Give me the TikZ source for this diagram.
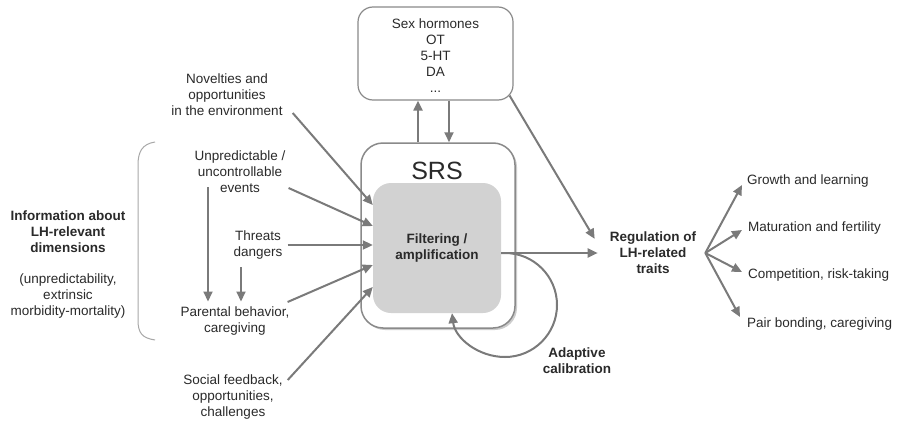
\documentclass[tikz,border=0pt]{standalone}
\usepackage{fontspec}
\setmainfont{Liberation Sans}
\usetikzlibrary{arrows.meta,shadows}
\definecolor{lc}{HTML}{7A7A7A}
\definecolor{bc}{HTML}{8A8A8A}
\definecolor{ic}{HTML}{D2D2D2}
\definecolor{tc}{HTML}{2A2A2A}
\definecolor{brc}{HTML}{A8A8A8}
\newcommand\fsz{\fontsize{13.5}{16}\selectfont}
\tikzset{
  txt/.style={font=\fsz, text=tc, align=center, inner sep=0pt},
  boldtxt/.style={txt, font=\fsz\bfseries},
  arr/.style={draw=lc, line width=2pt, -{Triangle[length=10pt,width=9pt]}},
  hbox/.style={draw=bc, line width=1.2pt, rounded corners=15pt, fill=white},
  srsbox/.style={draw=bc, line width=1.5pt, rounded corners=22pt, fill=white,
     drop shadow={opacity=0.4, shadow xshift=2pt, shadow yshift=-2pt}},
  innerbox/.style={fill=ic, rounded corners=18pt, inner sep=0pt},
}
\begin{document}
\begin{tikzpicture}[x=1pt,y=-1pt]
\path[use as bounding box, fill=white] (0,0) rectangle (897,423);

% hormones box
\node[hbox, minimum width=155pt, minimum height=93pt] (horm) at (435.5,53.5) {};
\node[txt] (hormtxt) at (435.5,56) {Sex hormones\\OT\\5-HT\\DA\\...};

% SRS
\node[srsbox, minimum width=154pt, minimum height=185pt] (srs) at (438,235.5) {};
\node[txt, font=\fontsize{25}{28}\selectfont] (srslab) at (437,171) {SRS};
\node[innerbox, minimum width=128pt, minimum height=130pt, boldtxt] (inner) at (437,248) {Filtering /\\amplification};

% left texts
\node[txt] (nov) at (227,95) {Novelties and\\opportunities\\in the environment};
\node[txt] (unp) at (240,172) {Unpredictable /\\uncontrollable\\events};
\node[txt] (thr) at (258,245) {Threats\\dangers};
\node[txt] (par) at (235,321) {Parental behavior,\\caregiving};
\node[txt] (soc) at (233,397) {Social feedback,\\opportunities,\\challenges};
\node[boldtxt] (info) at (68,232) {Information about\\LH-relevant\\dimensions};
\node[txt] (dims) at (68,296) {(unpredictability,\\extrinsic\\morbidity-mortality)};

% bracket
\draw[brc, line width=1pt] (155,142) .. controls (142,144) and (138,152) .. (138,165)
   -- (138,320) .. controls (138,333) and (142,338) .. (155,340);

% right texts
\node[boldtxt] (reg) at (653,253) {Regulation of\\LH-related\\traits};
\node[boldtxt] (adapt) at (577,361) {Adaptive\\calibration};
\node[txt, anchor=west] (g1) at (747,181) {Growth and learning};
\node[txt, anchor=west] (g2) at (748,228) {Maturation and fertility};
\node[txt, anchor=west] (g3) at (748,275) {Competition, risk-taking};
\node[txt, anchor=west] (g4) at (747,324) {Pair bonding, caregiving};

% arrows between SRS and hormones
\draw[arr] ([xshift=-20pt]srs.north) -- ([xshift=-17.5pt]horm.south);
\draw[arr] ([xshift=13.5pt]horm.south) -- ([xshift=11pt]srs.north);

% inputs
\draw[arr] ([shift={(10pt,-18pt)}]nov.east) -- ([yshift=43pt]inner.west);
\draw[arr] ([shift={(3pt,-16pt)}]unp.east) -- ([yshift=22pt]inner.west);
\draw[arr] ([xshift=5pt]thr.east) -- (thr.east -| inner.west);
\draw[arr] ([shift={(-2pt,19pt)}]par.east) -- ([yshift=-17pt]inner.west);
\draw[arr] ([shift={(5pt,17pt)}]soc.east) -- ([yshift=-39pt]inner.west);

% vertical arrows to parental
\draw[arr] ([shift={(-32pt,6pt)}]unp.south) -- ([shift={(-27pt,5pt)}]par.north);
\draw[arr] ([shift={(-17pt,-8pt)}]thr.south) -- ([shift={(6pt,5pt)}]par.north);

% outputs
\draw[arr] ([yshift=-5pt]inner.east) -- ([xshift=-12pt]reg.west);
\draw[arr] ([shift={(-4pt,5pt)}]horm.south east) -- ([shift={(-15pt,-7pt)}]reg.north west);

% adaptive loop
\coordinate (lp) at (505,253);
\draw[arr] ([yshift=-5pt]inner.east) -- (lp)
   .. controls (533.7,253) and (557,276.3) .. (557,305)
   .. controls (557,333.7) and (533.7,357) .. (505,357)
   .. controls (478,357) and (455,338) .. ([xshift=15pt,yshift=0pt]inner.south);

% fan
\coordinate (fan) at ([xshift=9pt]reg.east);
\draw[arr] (fan) -- ([shift={(-5pt,-4pt)}]g1.west);
\draw[arr] (fan) -- ([shift={(-6pt,-2pt)}]g2.west);
\draw[arr] (fan) -- ([shift={(-6pt,3pt)}]g3.west);
\draw[arr] (fan) -- ([shift={(-7pt,7pt)}]g4.west);
\end{tikzpicture}
\end{document}
